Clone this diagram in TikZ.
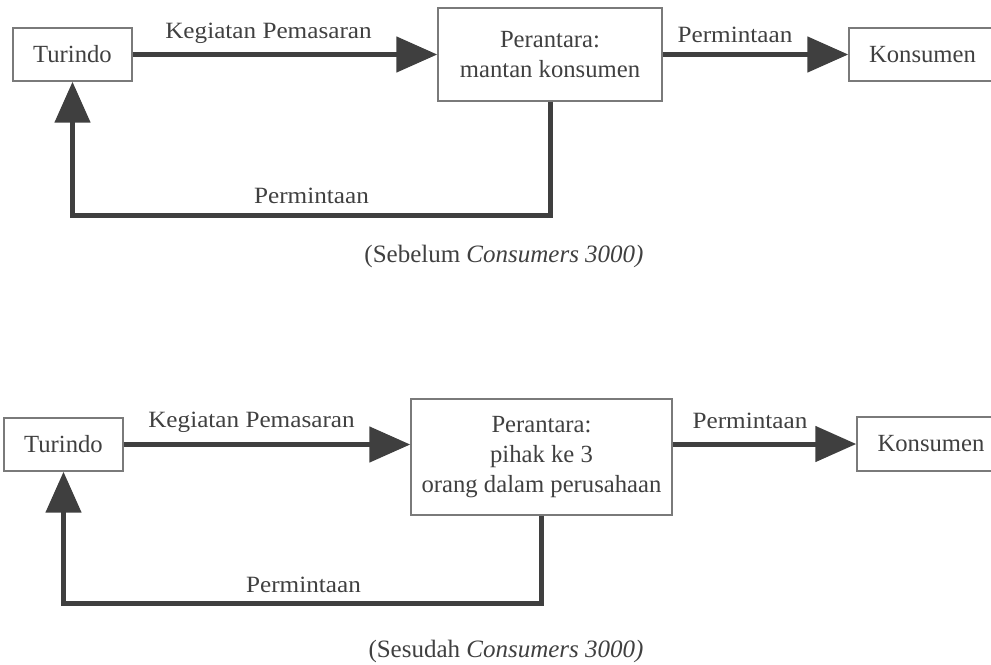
\documentclass[tikz,border=0pt]{standalone}
\usepackage{fontspec}
\setmainfont{Liberation Serif}
\newfontfamily\lblfont[FakeStretch=1.08]{Liberation Serif}
\usetikzlibrary{arrows.meta}
\definecolor{txtc}{HTML}{404040}
\definecolor{arrc}{HTML}{3F3F3F}
\definecolor{boxc}{HTML}{7A7A7A}
\tikzset{
  box/.style={draw=boxc, line width=1.1pt, inner sep=0pt, align=center, text=txtc,
    font=\fontsize{18.5}{22.5}\selectfont},
  arr/.style={draw=arrc, line width=3.75pt,
    -{Triangle[length=30.75pt,width=26.25pt]}},
  lbl/.style={anchor=base, inner sep=0pt, text=txtc, font=\lblfont\fontsize{17.5}{21}\selectfont},
  captxt/.style={anchor=base, inner sep=0pt, text=txtc, font=\fontsize{18.75}{22}\selectfont}
}
\begin{document}
\begin{tikzpicture}[x=0.75pt,y=-0.75pt]
\useasboundingbox (0,0) rectangle (991,664);
% ---------- top diagram ----------
\node[box, minimum width=89.25pt, minimum height=39.75pt] (t1) at (72.5,54.5) {Turindo};
\node[box, minimum width=168pt, minimum height=69.75pt] (p1) at (550,54.5) {Perantara:\\mantan konsumen};
\node[box, minimum width=110.25pt, minimum height=39.75pt] (k1) at (922.5,54.5) {Konsumen};
\coordinate (f1) at (550,215);
\draw[arr] (t1.east) -- (p1.west);
\draw[arr] (p1.east) -- (k1.west);
\draw[arr] (p1.south) -- (f1) -| (t1.south);
\node[lbl] (l1) at (268.5,38) {Kegiatan Pemasaran};
\node[lbl] (l2) at (735,42) {Permintaan};
\node[lbl] (l3) at (311.5,203) {Permintaan};
\node[captxt] (c1) at (504,262) {(Sebelum \textit{Consumers 3000)}};
% ---------- bottom diagram ----------
\node[box, minimum width=89.25pt, minimum height=39.75pt] (t2) at (63.5,444.5) {Turindo};
\node[box, minimum width=195.75pt, minimum height=87pt] (p2) at (541.5,457) {Perantara:\\pihak ke 3\\orang dalam perusahaan};
\node[box, minimum width=111pt, minimum height=40.5pt] (k2) at (931,444) {Konsumen};
\coordinate (f2) at (541.5,603);
\draw[arr] (t2.east) -- (t2.east -| p2.west);
\draw[arr] (p2.east |- k2.west) -- (k2.west);
\draw[arr] (p2.south) -- (f2) -| (t2.south);
\node[lbl] (l4) at (251.5,427) {Kegiatan Pemasaran};
\node[lbl] (l5) at (750,428) {Permintaan};
\node[lbl] (l6) at (303.5,592) {Permintaan};
\node[captxt] (c2) at (506,657) {(Sesudah \textit{Consumers 3000)}};
\end{tikzpicture}
\end{document}
